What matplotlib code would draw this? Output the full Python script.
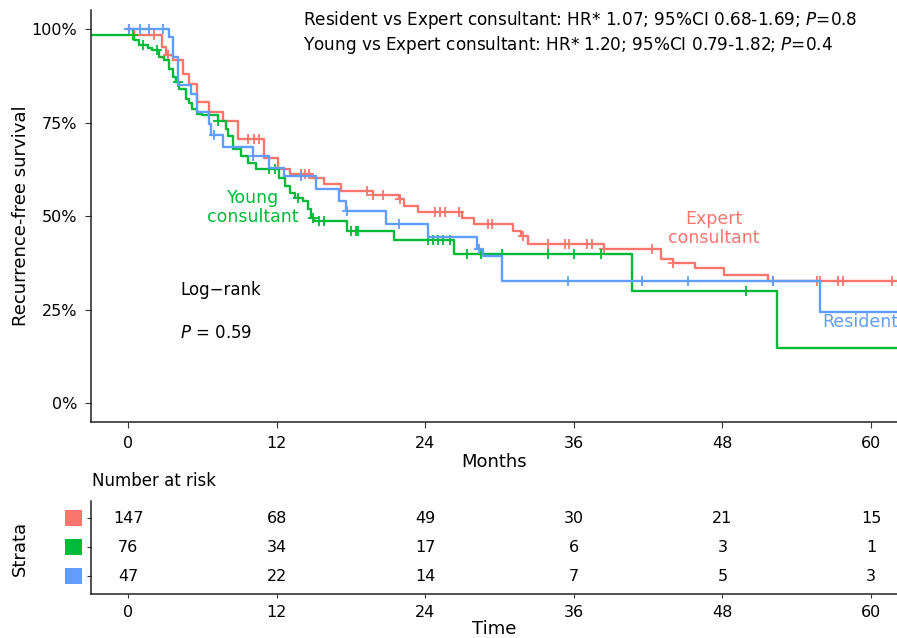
import numpy as np
import matplotlib
matplotlib.use('Agg')
import matplotlib.pyplot as plt
from matplotlib.patches import Rectangle

# Kaplan-Meier steps (months, survival %)
expert_t = [0, 0.5, 2.7, 3.1, 3.6, 4.4, 4.9, 5.6, 6.5, 7.7, 8.9, 11.0, 12.1, 13.1, 14.8, 15.8,
            17.2, 19.8, 21.9, 22.3, 23.4, 27.0, 27.9, 31.1, 31.7, 32.3, 38.4, 43.0, 44.0, 45.8,
            48.1, 51.7, 64]
expert_s = [100, 98.4, 95.2, 93.1, 91.8, 88.0, 85.4, 80.6, 77.9, 75.3, 70.7, 65.4, 62.5, 61.2,
            60.1, 58.5, 56.6, 55.6, 54.5, 52.7, 51.1, 49.5, 47.9, 46.0, 44.7, 42.6, 41.2, 38.6,
            37.5, 36.2, 34.3, 32.7, 32.7]
expert_cens = [0.1, 2.1, 3.2, 9.7, 10.2, 10.6, 14.0, 14.3, 14.6, 19.3, 19.8, 20.6, 22.0, 24.8,
               25.2, 25.6, 26.7, 29.1, 29.4, 31.9, 33.9, 35.3, 35.6, 37.1, 37.5, 38.4, 42.3,
               44.0, 52.1, 55.6, 55.9, 57.3, 57.7, 61.7]

young_t = [-5, 0.5, 0.9, 1.6, 1.9, 2.5, 2.9, 3.3, 3.6, 3.9, 4.1, 4.7, 4.9, 5.2, 5.6, 6.0, 7.3,
           7.9, 8.1, 8.5, 9.1, 9.7, 10.3, 12.2, 12.7, 13.1, 13.5, 14.1, 14.5, 14.8, 15.0, 17.7,
           21.5, 26.3, 40.7, 52.4, 64]
young_s = [98.4, 97.1, 95.7, 94.9, 94.4, 92.6, 91.8, 89.4, 87.2, 85.9, 84.0, 81.4, 80.1, 78.7,
           77.4, 76.9, 75.3, 73.4, 71.3, 67.8, 66.0, 64.1, 62.5, 60.1, 58.0, 56.1, 54.8, 54.0,
           51.9, 49.5, 48.7, 46.0, 43.6, 39.9, 30.1, 14.9, 14.9]
young_cens = [0.4, 1.2, 2.3, 4.0, 7.3, 11.4, 11.9, 13.7, 14.9, 15.4, 15.8, 18.0, 18.4, 18.6,
              24.2, 24.6, 25.0, 25.4, 26.0, 27.4, 28.5, 30.2, 33.9, 36.0, 38.2, 49.9]

resident_t = [0, 3.3, 3.6, 4.0, 5.1, 5.6, 6.5, 6.7, 7.7, 10.1, 11.4, 12.6, 15.2, 17.0, 17.6,
              20.8, 24.2, 28.2, 28.7, 30.2, 55.9, 64]
resident_s = [100, 97.9, 92.6, 85.1, 82.7, 77.9, 74.5, 71.8, 68.4, 66.0, 62.8, 60.6, 57.2, 54.0,
              51.3, 47.9, 44.4, 41.2, 39.4, 32.7, 24.5, 24.5]
resident_cens = [0.1, 1.0, 1.7, 2.8, 6.9, 10.1, 14.0, 17.7, 21.9, 28.3, 35.5, 41.5, 45.2, 52.1]

groups = ['Expert consultant', 'Young consultant', 'Resident']
colors = ['#F8766D', '#00BA38', '#619CFF']

risk_times = [0, 12, 24, 36, 48, 60]
risk_expert = [147, 68, 49, 30, 21, 15]
risk_young = [76, 34, 17, 6, 3, 1]
risk_resident = [47, 22, 14, 7, 5, 3]

hr_lines = ['Resident vs Expert consultant: HR* 1.07; 95%CI 0.68-1.69; $\\it{P}$=0.8',
            'Young vs Expert consultant: HR* 1.20; 95%CI 0.79-1.82; $\\it{P}$=0.4']

plt.rcParams['font.family'] = ['DejaVu Sans']
fs = 11.5
lab_fs = 13

fig = plt.figure(figsize=(8.97, 6.38), dpi=100)
ax = fig.add_axes([0.1014, 0.339, 0.8986, 0.645])


def step_at(t, s, x):
    idx = np.searchsorted(t, x, side='right') - 1
    return np.array(s)[idx]


curves = [(expert_t, expert_s, expert_cens),
          (young_t, young_s, young_cens),
          (resident_t, resident_s, resident_cens)]
for (t, s, c), col in zip(curves, colors):
    ax.step(t, np.array(s) / 100, where='post', color=col, lw=1.7)
    ax.plot(c, step_at(t, s, c) / 100, ls='none', marker='|', color=col, ms=7, mew=1.3)
    ax.plot(c, step_at(t, s, c) / 100, ls='none', marker='_', color=col, ms=7, mew=1.3)

ax.set_xlim(-3.0, 62.1)
ax.set_ylim(-0.049, 1.05)
ax.set_xticks(risk_times)
ax.set_yticks([0, 0.25, 0.5, 0.75, 1.0])
ax.set_yticklabels(['0%', '25%', '50%', '75%', '100%'])
for sp in ['top', 'right']:
    ax.spines[sp].set_visible(False)
for sp in ['left', 'bottom']:
    ax.spines[sp].set_linewidth(1.1)
    ax.spines[sp].set_color('#222222')
ax.tick_params(labelsize=fs, length=4, color='#333333', labelcolor='black', pad=6)
ax.set_xlabel('Months', fontsize=lab_fs, labelpad=2)
ax.set_ylabel('Recurrence-free survival', fontsize=lab_fs, labelpad=1)

fig.text(303 / 897, 1 - 20 / 638, hr_lines[0], fontsize=12.2, va='center', ha='left')
fig.text(303 / 897, 1 - 45 / 638, hr_lines[1], fontsize=12.2, va='center', ha='left')

ax.text(10.1, 0.523, 'Young\nconsultant', color=colors[1], fontsize=12.5,
        ha='center', va='center', linespacing=1.1)
ax.text(47.3, 0.467, 'Expert\nconsultant', color=colors[0], fontsize=12.5,
        ha='center', va='center', linespacing=1.1)
ax.text(56.1, 0.217, 'Resident', color=colors[2], fontsize=12.5, ha='left', va='center')
ax.text(4.2, 0.303, 'Log\u2212rank', fontsize=12, ha='left', va='center')
ax.text(4.2, 0.188, '$\\it{P}$ = 0.59', fontsize=12, ha='left', va='center')

# risk table
rt = fig.add_axes([0.1014, 0.069, 0.8986, 0.146])
rows = [risk_expert, risk_young, risk_resident]
for i, vals in enumerate(rows):
    y = 3 - i
    for x, v in zip(risk_times, vals):
        rt.text(x, y, str(v), ha='center', va='center', fontsize=fs)
rt.set_xlim(-3.0, 62.1)
rt.set_ylim(0.38, 3.6)
rt.set_xticks(risk_times)
rt.set_yticks([3, 2, 1])
rt.set_yticklabels(['', '', ''])
for sp in ['top', 'right']:
    rt.spines[sp].set_visible(False)
for sp in ['left', 'bottom']:
    rt.spines[sp].set_linewidth(1.1)
    rt.spines[sp].set_color('#222222')
rt.tick_params(labelsize=fs, length=3, color='#333333', pad=5)
rt.set_xlabel('Time', fontsize=lab_fs, labelpad=0)

# coloured strata keys next to the table rows
for i, col in enumerate(colors):
    y = 3 - i
    yd = rt.transData.transform((0, y))[1]
    yf = fig.transFigure.inverted().transform((0, yd))[1]
    fig.patches.append(Rectangle((65 / 897, yf - 8 / 638), 17 / 897, 16 / 638,
                                 transform=fig.transFigure, color=col, lw=0))
fig.text(20 / 897, 1 - 548 / 638, 'Strata', rotation=90, fontsize=lab_fs,
         ha='center', va='center')
fig.text(92 / 897, 1 - 481 / 638, 'Number at risk', fontsize=12, ha='left', va='center')

fig.savefig('out.png', dpi=100)
